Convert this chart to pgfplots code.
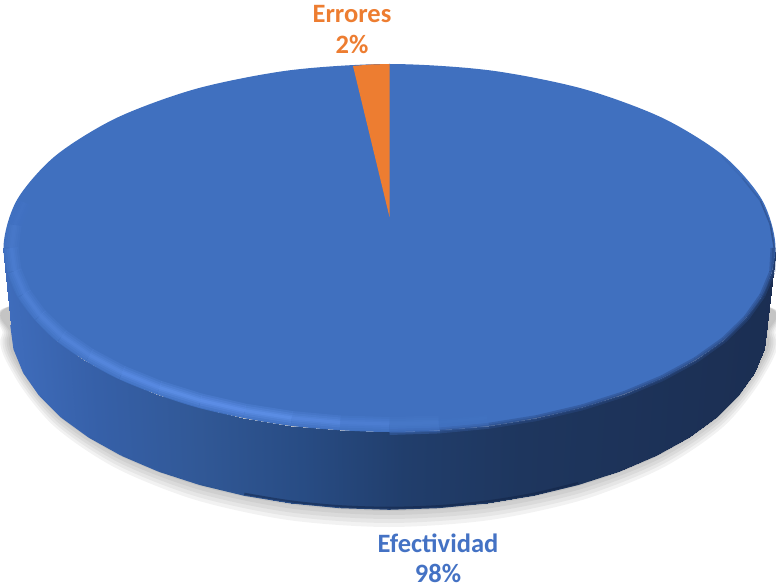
\documentclass[border=0pt]{standalone}
\usepackage{fontspec}
\setmainfont{Carlito}
\usepackage{pgfplots}
\usepackage{pgfplotstable}
\pgfplotsset{compat=1.18}

\definecolor{pieblue}{RGB}{64,112,191}
\definecolor{pieorange}{RGB}{237,125,49}
\definecolor{lblblue}{RGB}{68,114,196}
\definecolor{footnavy}{RGB}{16,32,64}

% light bevel on the lower left
\pgfplotstableread{
x y c
24.4 202.4 0
14.7 225 20
11.5 248 35
14.7 271 45
24.4 293.6 50
40.3 315.4 55
62.1 336 60
89.6 355.1 70
122.2 372.5 80
159.4 387.6 90
200.5 400.4 100
244.8 410.6 100
291.7 418 90
340.2 422.5 60
389.5 424 35
438.8 422.5 15
487.3 418 0
}\rimlight

% dark soft edge on the right
\pgfplotstableread{
x y c
773.5 248 100
772.2 272 100
762.3 295.6 100
746.1 318.4 100
723.8 340 100
695.7 360 100
662.4 378.1 100
624.5 394 100
582.5 407.3 100
537.2 418 100
489.4 425.7 80
439.9 430.4 40
389.5 432 0
}\rimdark

% thin dark edge, upper right
\pgfplotstableread{
x y c
722.1 156.5 0
742.3 177.9 30
760.4 200.6 60
770.2 224.2 85
774.3 248 100
}\rimthin

% foot of the wall
\pgfplotstableread{
x y c
767 325 98.8
763.8 349 98.4
754.1 372.6 97.2
738.2 395.4 95.1
716.4 417 92.3
688.9 437 88.8
656.3 455.1 84.6
619.1 471 79.8
578 484.3 74.5
533.7 495 68.8
486.8 502.7 62.7
438.3 507.4 56.5
389 509 50.1
339.7 507.4 43.8
291.2 502.7 37.5
244.3 495 31.5
200 484.3 25.8
158.9 471 20.5
121.7 455.1 15.7
89.1 437 11.5
61.6 417 7.9
39.8 395.4 5.1
23.9 372.6 3.1
14.2 349 1.8
11 325 1.4
}\wallfoot

\begin{document}
\begin{tikzpicture}
\begin{axis}[
  name=pie,
  scale only axis,
  width=776pt,
  height=585pt,
  xmin=0, xmax=776,
  ymin=0, ymax=585,
  y dir=reverse,
  axis lines=none,
  point meta min=0,
  point meta max=100,
  colormap={side}{rgb255(0cm)=(64,110,190) rgb255(13cm)=(54,96,168) rgb255(26cm)=(49,88,150) rgb255(39cm)=(40,76,132) rgb255(52cm)=(33,62,108) rgb255(67cm)=(30,54,94) rgb255(100cm)=(27,46,82)},
  colormap={lightrim}{rgb255(0cm)=(64,112,191) rgb255(1cm)=(96,146,236)},
  colormap={darkrim}{rgb255(0cm)=(64,112,191) rgb255(1cm)=(42,74,132)},
]

% soft shadow
\addplot[fill=black, draw=none, opacity=.05, smooth cycle] coordinates {(716,300) (776,335) (762.8,377.3) (724.1,426) (662.6,467.8) (582.5,499.9) (489.2,520.1) (389,527) (288.8,520.1) (195.5,499.9) (115.4,467.8) (53.9,426) (15.2,377.3) (2,335) (60,300)};
\addplot[fill=black, draw=none, opacity=.05, smooth cycle] coordinates {(716,300) (774,335) (760.9,376.2) (722.4,424) (661.2,465) (581.5,496.5) (488.6,516.2) (389,523) (289.4,516.2) (196.5,496.5) (116.8,465) (55.6,424) (17.1,376.2) (4,335) (60,300)};
\addplot[fill=black, draw=none, opacity=.05, smooth cycle] coordinates {(716,300) (772,335) (758.9,375.2) (720.7,422) (659.8,462.2) (580.5,493) (488.1,512.4) (389,519) (289.9,512.4) (197.5,493) (118.2,462.2) (57.3,422) (19.1,375.2) (6,335) (60,300)};
\addplot[fill=black, draw=none, opacity=.05, smooth cycle] coordinates {(716,300) (770,335) (757,374.2) (719,420) (658.4,459.4) (579.5,489.5) (487.6,508.5) (389,515) (290.4,508.5) (198.5,489.5) (119.6,459.4) (59,420) (21,374.2) (8,335) (60,300)};
\addplot[fill=black, draw=none, opacity=.05, smooth cycle] coordinates {(716,300) (768,335) (755.1,373.1) (717.2,418) (657,456.5) (578.5,486.1) (487.1,504.7) (389,511) (290.9,504.7) (199.5,486.1) (121,456.5) (60.8,418) (23,373.1) (10,335) (60,300)};

% side wall, one quad per line
\addplot[patch, patch type=rectangle, shader=interp, colormap name=side, point meta=explicit] coordinates {
(775.5,248) [98.8] (772.2,272) [98.4] (763.8,349) [98.4] (767,325) [98.8]
(772.2,272) [98.4] (762.3,295.6) [97.2] (754.1,372.6) [97.2] (763.8,349) [98.4]
(762.3,295.6) [97.2] (746.1,318.4) [95.1] (738.2,395.4) [95.1] (754.1,372.6) [97.2]
(746.1,318.4) [95.1] (723.8,340) [92.3] (716.4,417) [92.3] (738.2,395.4) [95.1]
(723.8,340) [92.3] (695.7,360) [88.8] (688.9,437) [88.8] (716.4,417) [92.3]
(695.7,360) [88.8] (662.4,378.1) [84.6] (656.3,455.1) [84.6] (688.9,437) [88.8]
(662.4,378.1) [84.6] (624.5,394) [79.8] (619.1,471) [79.8] (656.3,455.1) [84.6]
(624.5,394) [79.8] (582.5,407.3) [74.5] (578,484.3) [74.5] (619.1,471) [79.8]
(582.5,407.3) [74.5] (537.2,418) [68.8] (533.7,495) [68.8] (578,484.3) [74.5]
(537.2,418) [68.8] (489.4,425.7) [62.7] (486.8,502.7) [62.7] (533.7,495) [68.8]
(489.4,425.7) [62.7] (439.9,430.4) [56.5] (438.3,507.4) [56.5] (486.8,502.7) [62.7]
(439.9,430.4) [56.5] (389.5,432) [50.1] (389,509) [50.1] (438.3,507.4) [56.5]
(389.5,432) [50.1] (339.1,430.4) [43.8] (339.7,507.4) [43.8] (389,509) [50.1]
(339.1,430.4) [43.8] (289.6,425.7) [37.5] (291.2,502.7) [37.5] (339.7,507.4) [43.8]
(289.6,425.7) [37.5] (241.8,418) [31.5] (244.3,495) [31.5] (291.2,502.7) [37.5]
(241.8,418) [31.5] (196.5,407.3) [25.8] (200,484.3) [25.8] (244.3,495) [31.5]
(196.5,407.3) [25.8] (154.5,394) [20.5] (158.9,471) [20.5] (200,484.3) [25.8]
(154.5,394) [20.5] (116.6,378.1) [15.7] (121.7,455.1) [15.7] (158.9,471) [20.5]
(116.6,378.1) [15.7] (83.3,360) [11.5] (89.1,437) [11.5] (121.7,455.1) [15.7]
(83.3,360) [11.5] (55.2,340) [7.9] (61.6,417) [7.9] (89.1,437) [11.5]
(55.2,340) [7.9] (32.9,318.4) [5.1] (39.8,395.4) [5.1] (61.6,417) [7.9]
(32.9,318.4) [5.1] (16.7,295.6) [3.1] (23.9,372.6) [3.1] (39.8,395.4) [5.1]
(16.7,295.6) [3.1] (6.8,272) [1.8] (14.2,349) [1.8] (23.9,372.6) [3.1]
(6.8,272) [1.8] (3.5,248) [1.4] (11,325) [1.4] (14.2,349) [1.8]
};
\addplot[mesh, colormap name=side, point meta=\thisrow{c}, line width=1.6pt] table {\wallfoot};

% dark line along the foot of the wall
\addplot[draw=footnavy, opacity=.45, line width=2pt, smooth] coordinates {(578,483) (533.7,493.7) (486.8,501.4) (438.3,506.1) (389,507.7) (339.7,506.1) (291.2,501.4) (244.3,493.7)};

% top face
\addplot[fill=pieblue, draw=none, smooth cycle] coordinates {(775.5,248) (762.3,295.6) (723.8,340) (662.4,378.1) (582.5,407.3) (489.4,425.7) (389.5,432) (289.6,425.7) (196.5,407.3) (116.6,378.1) (55.2,340) (16.7,295.6) (3.5,248) (16.7,200.4) (55.2,156) (116.6,117.9) (196.5,88.7) (289.6,70.3) (389.5,64) (489.4,70.3) (582.5,88.7) (662.4,117.9) (723.8,156) (762.3,200.4)};

% bevel on the rim
\addplot[mesh, colormap name=darkrim, point meta=\thisrow{c}, line width=6pt, opacity=.45] table {\rimdark};
\addplot[mesh, colormap name=darkrim, point meta=\thisrow{c}, line width=2.5pt, opacity=.55] table {\rimdark};
\addplot[mesh, colormap name=darkrim, point meta=\thisrow{c}, line width=1.6pt, opacity=.8] table {\rimthin};
\addplot[mesh, colormap name=lightrim, point meta=\thisrow{c}, line width=14pt, opacity=.25] table {\rimlight};
\addplot[mesh, colormap name=lightrim, point meta=\thisrow{c}, line width=10pt, opacity=.3] table {\rimlight};
\addplot[mesh, colormap name=lightrim, point meta=\thisrow{c}, line width=6pt, opacity=.4] table {\rimlight};
\addplot[mesh, colormap name=lightrim, point meta=\thisrow{c}, line width=3pt, opacity=.55] table {\rimlight};

% Errores slice
\addplot[fill=pieorange, draw=none] coordinates {(389.5,217) (353,66) (371,64.5) (389.5,64)} -- cycle;

\node[anchor=base, inner sep=0pt, text=pieorange, font=\fontsize{26.5}{30}\selectfont\bfseries] at (axis cs:352,23) {Errores};
\node[anchor=base, inner sep=0pt, text=pieorange, font=\fontsize{26.5}{30}\selectfont\bfseries] at (axis cs:352,54) {2\%};
\node[anchor=base, inner sep=0pt, text=lblblue, font=\fontsize{26.5}{30}\selectfont\bfseries] at (axis cs:438,552) {Efectividad};
\node[anchor=base, inner sep=0pt, text=lblblue, font=\fontsize{26.5}{30}\selectfont\bfseries] at (axis cs:438,582) {98\%};
\end{axis}
\pgfresetboundingbox
\path[use as bounding box] (pie.south west) rectangle (pie.north east);
\end{tikzpicture}
\end{document}
